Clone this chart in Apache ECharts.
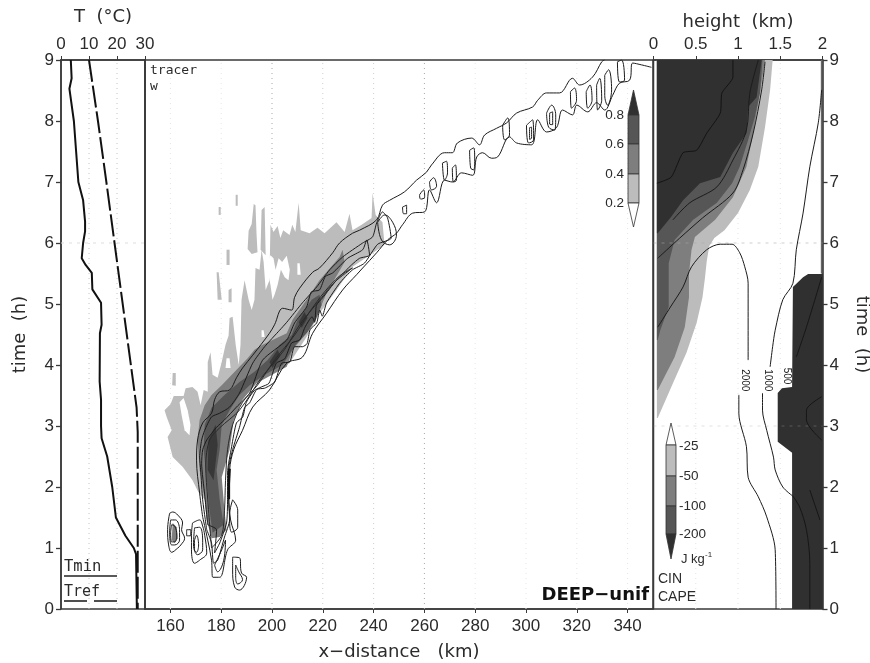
<!DOCTYPE html>
<html><head><meta charset="utf-8">
<style>html,body{margin:0;padding:0;background:#fff}#c{width:870px;height:663px;filter:blur(0.35px)}</style>
<script src="https://cdn.jsdelivr.net/npm/echarts@6/dist/echarts.min.js"></script>
</head><body><div id="c"></div>
<script>
// ---- tick labels
const hourTicks=[0,1,2,3,4,5,6,7,8,9];
const tempTicks=[0,10,20,30];
const distTicks=[160,180,200,220,240,260,280,300,320,340];
const heightTicks=[0,0.5,1,1.5,2];
// ---- left panel (T degC, time h)
const Tmin=[[3.5,9],[3.8,8.7],[3,8.53],[4.6,8],[5.4,7.5],[6.2,7],[7.9,6.7],[8.6,6.35],[8.6,6.19],[7.9,6],[7.4,5.75],[8.8,5.64],[11,5.51],[11.2,5.24],[14.3,5.02],[14.5,4.66],[13.9,4.52],[13.8,3.73],[14.3,3.43],[14.3,3],[14.5,2.8],[16.5,2.5],[18.3,2],[19.6,1.5],[23,1.2],[26,1],[26.8,0.9],[27.1,0]];
const Tref=[[10,9],[13.2,8],[16.2,7],[27,3.3],[27.4,2.9],[27.4,0]];
// ---- tracer w shading (km, h)
const wLight=[[171,1.92],[168.7,2.11],[164.8,2.33],[160.9,2.49],[159.7,2.69],[158.9,2.82],[160.5,2.93],[158.5,3.15],[157.7,3.26],[160.1,3.36],[161.3,3.49],[165.2,3.49],[166,3.62],[168.7,3.64],[170.7,3.56],[171.9,3.34],[173.1,3.59],[174.7,3.56],[174.7,4.05],[175.8,4.21],[176.6,3.84],[178.6,3.79],[180.2,4.05],[181.7,4.33],[182.9,4.48],[183.3,4.77],[184.5,4.79],[185.7,4.33],[186.9,4],[187.6,4.33],[188,5.07],[189.2,5.39],[190.8,5.07],[192,4.9],[193.1,5.07],[193.5,5.59],[195.1,5.56],[195.9,5.89],[196.7,5.69],[197.5,5.23],[199,5.39],[199.4,6.3],[200.6,6.18],[202.2,6.28],[203.3,6.08],[204.4,6.21],[206.9,6.13],[208,6.3],[209.2,6.18],[210.5,6.66],[211.3,6.21],[214.8,6.16],[217.9,6.25],[220.7,6.16],[225.4,6.34],[228.6,6.18],[230.5,6.48],[231.7,6.21],[235.3,6.3],[239.2,6.41],[239.6,6.82],[240.8,6.46],[243.5,6.34],[244.3,5.97],[238.4,5.8],[231.7,5.61],[225.4,5.23],[218.7,4.85],[213.6,4.46],[206.9,4.03],[193.9,3.7],[187.2,3.43],[184.1,3.02],[182.5,2.61],[173.5,1.79]];
const wSpikes=[
 [[190.4,5.9],[190.8,6.2],[192,6.31],[192.8,6.64],[193.5,6.62],[193.9,6.16],[194.3,5.85],[192,5.82]],
 [[195.5,5.89],[195.9,6.54],[197.1,6.59],[197.5,5.8]],
 [[160.7,3.67],[160.9,3.87],[162.1,3.87],[162.1,3.66]],
 [[182.1,5.89],[183.3,5.89],[183.3,5.64],[182.1,5.64]],
 [[178.2,5.52],[179,5.52],[180.2,5.07],[178.6,5.07]],
 [[182.9,5.23],[184.1,5.26],[184.1,5.03],[182.9,5.03]],
 [[185.7,6.79],[186.5,6.79],[186.5,6.61],[185.7,6.61]],
 [[179,6.59],[179.8,6.59],[179.8,6.46],[179,6.46]]];
const wHoles=[
 [[198.2,5.69],[199.4,5.8],[200.6,5.75],[201.4,5.56],[202.6,5.75],[204,5.69],[205.8,5.79],[207,5.56],[206.5,5.39],[205,5.44],[203.5,5.56],[202.2,5.31],[201,5.15],[200.2,5.07],[199.4,5.31],[198.6,5.48]],
 [[210,5.67],[210.9,5.67],[211.3,5.48],[210,5.48]],
 [[163.6,3.39],[165.2,3.46],[166.8,3.26],[167.9,3.02],[167.5,2.85],[165.6,2.93],[164.4,3.18]],
 [[195.9,4.57],[196.7,4.57],[197.1,4.46],[195.9,4.46]],
 [[182.1,4.11],[183.3,4.11],[183.7,3.95],[181.7,3.95]]];
const wMid=[[176.2,1.16],[174.3,1.46],[173.5,1.79],[171.5,2.28],[170.7,2.77],[171.5,3.1],[173.5,3.34],[176.2,3.51],[180.2,3.67],[185.3,3.89],[190.4,4.11],[193.1,4.25],[196.3,4.33],[205.8,4.52],[208.1,4.74],[213.6,5.07],[218.7,5.39],[226.6,5.77],[227.8,5.89],[228.6,5.69],[221.5,5.18],[217.6,4.79],[213.6,4.52],[208.1,4.25],[205.8,3.97],[193.9,3.7],[188.4,3.43],[184.9,3.1],[183.3,2.61],[180.2,2.16],[181.3,1.62],[182.1,1.3],[179.4,1.18]];
const wCell=[[160.9,1.41],[162.5,1.34],[162.9,1.16],[161.7,1.08],[160.5,1.13]];
const wDark=[[176.6,1.25],[175.4,1.62],[174.3,2.11],[173.1,2.61],[173.5,3.02],[176.2,3.3],[181.3,3.51],[187.2,3.72],[193.1,3.89],[198.3,4.08],[203,4.33],[207.7,4.49],[210.1,4.74],[212.8,4.9],[215.6,5.07],[218.7,5.15],[219.5,4.98],[217.2,4.74],[214,4.54],[209.3,4.33],[204.2,4],[197.1,3.84],[191.2,3.67],[187.2,3.51],[183.3,3.26],[180.2,3.02],[179.4,2.61],[178.2,2.28],[179.4,1.79],[181,1.38]];
const wDarkest=[
 [[174.7,2.28],[175,2.77],[177.8,3.02],[178.6,2.69],[177,2.11]],
 [[210.5,4.7],[212.8,4.87],[214,4.77],[211.7,4.61]],
 [[199,4.05],[202.2,4.25],[203.3,4.15],[200.2,3.95]]];
// ---- tracer contours (km, h)
const ctrUpper=[[172.7,1.51],[171.5,1.9],[170.3,2.44],[170.7,2.77],[172.7,3.05],[176.2,3.21],[177.4,3.43],[179.4,3.56],[183.3,3.59],[186,3.79],[188.4,3.95],[192.4,4.16],[199,4.52],[201,4.66],[204.2,4.93],[207.7,4.9],[208.9,5.11],[210.9,5.26],[216,5.52],[218.7,5.59],[223.9,5.84],[226.6,6],[231.7,6.16],[234.5,6.21],[241.2,6.38],[243.5,6.62],[246.3,6.7],[252.2,6.84],[256.9,7.03],[260.8,7.16],[262.8,7.28],[267.9,7.48],[271,7.48],[273,7.64],[278.6,7.72],[281.7,7.61],[283.7,7.77],[288.4,7.88],[292.4,7.97],[296.3,8.13],[302.6,8.23],[304.6,8.34],[308.1,8.46],[313.2,8.46],[318.3,8.7],[321.1,8.59],[326.2,8.72],[329.8,8.97],[330.9,9]];
const ctrLower=[[349.4,8.88],[345.5,8.92],[342,8.95],[340.8,8.67],[336.8,8.62],[334.1,8.42],[331,8.18],[327.8,8.3],[324.3,8.15],[320,8.26],[318.3,8.1],[314.4,8.18],[312,7.89],[308.1,7.82],[304.6,8.02],[302.2,7.61],[296.3,7.64],[293.5,7.74],[288.8,7.41],[286.4,7.39],[282.9,7.48],[280.6,7.41],[279,7.11],[274.6,7.15],[271,7],[267.9,7.03],[264.8,6.66],[262,6.87],[260.1,6.51],[255.4,6.49],[251.4,6.3],[249,6.16],[245.5,6.05],[241.2,5.84],[235.7,5.59],[233.3,5.48],[227.8,5.23],[221.5,4.85],[216,4.52],[212,4.13],[205.8,4.03],[199,3.59],[192.4,3.31],[188.4,2.93],[184.9,2.61],[183.3,2.28],[183,1.84],[183.7,1.46],[185.7,1.13],[182.5,0.97],[179.4,0.52],[176.7,0.52],[176.2,0.8],[174.7,1.13],[172.7,1.51]];
const ctrSecond=[[174.3,1.3],[172.7,1.79],[171.9,2.28],[171.5,2.49],[172.3,2.77],[173.5,2.93],[176.2,3.15],[179.4,3.21],[183.3,3.31],[187.2,3.54],[192.4,4.03],[197.1,4.3],[203,4.57],[205.8,4.7],[212,5.02],[217.6,5.28],[222.7,5.56],[227.8,5.77],[235.7,6],[239.6,6.1],[241.2,6.33],[243.5,6.51],[245.5,6.41],[246.9,6.08],[241.6,5.98],[236.4,5.67],[231.7,5.56],[226.6,5.34],[221.5,5.02],[219.8,4.8],[218.8,4.9],[217.6,4.69],[215,4.58],[213.8,4.35],[212,4.3],[208.9,4.3],[207,4.05],[203.8,4.03],[201,3.72],[197.1,3.62],[194,3.6],[191.2,3.38],[189.2,3.3],[187.2,2.98],[184.5,2.61],[182.9,2.28],[182.9,1.84],[183.3,1.46],[181.3,1.18],[178.6,0.8],[177,0.75],[176.2,1.08],[174.3,1.3]];
const ctrThird=[[174.7,1.38],[173.5,1.87],[172.3,2.39],[172.7,2.61],[174.3,2.77],[178.2,2.98],[181.3,3.1],[186,3.31],[191.2,3.54],[196.3,4.08],[205.8,4.41],[208.9,4.69],[213.6,4.95],[215.5,5.2],[218.7,5.23],[221,5.45],[223.9,5.51],[229.8,5.75],[235.7,5.89],[237.3,6.05],[238.4,5.8],[234.5,5.75],[231.3,5.64],[225.4,5.39],[219.9,5.1],[217.5,4.98],[216.8,4.7],[215.8,4.79],[213,4.62],[210.9,4.41],[207.7,4.36],[205,4.1],[201.7,4.03],[198.8,3.7],[195.8,3.64],[193,3.58],[189.9,3.39],[188.5,3.15],[186,3.05],[184.1,2.66],[182.5,2.23],[182.5,1.79],[182.1,1.41],[179.4,1.08],[177.4,0.92],[178.2,1.3],[174.7,1.38]];
const ctrFourth=[[176.2,1],[174.7,1.79],[173.9,2.36],[175.4,2.77],[179.4,2.97],[187.2,3.26],[195.8,3.79],[204.9,4.25],[210.9,4.66],[217.9,5.02],[224.7,5.36],[231.7,5.59],[226.6,5.46],[220.7,5.2],[214.8,4.87],[208.9,4.49],[201,4.08],[194.3,3.67],[188.4,3.39],[184.5,3.02],[182.5,2.61],[181.7,2.11],[181.3,1.62],[180.2,1.21],[176.2,1]];
const ctrDense=[[183.3,2.3],[183,2.05],[183,1.8]];
const ctrSmall=[
 [[277.8,7.52],[279.4,7.56],[279.8,7.36],[279.4,7.2],[278.2,7.23],[277.8,7.52]],
 [[267.1,7.31],[268.7,7.34],[269.1,7.15],[267.9,7.03],[267.1,7.31]],
 [[300.2,7.93],[302.6,8.02],[303,7.69],[301,7.64],[300.2,7.93]],
 [[301.4,7.89],[302.2,7.9],[302.2,7.72],[301.4,7.7],[301.4,7.89]],
 [[308.1,8.13],[310.1,8.26],[311.7,8.1],[311.3,7.85],[308.9,7.9],[308.1,8.13]],
 [[309.3,8.13],[310.5,8.15],[310.5,7.94],[309.3,7.95],[309.3,8.13]],
 [[317.5,8.48],[319.1,8.54],[319.9,8.34],[317.9,8.21],[317.5,8.48]],
 [[327.8,8.59],[329,8.7],[329.8,8.34],[328.2,8.18],[327.8,8.59]],
 [[331,8.75],[332.5,8.84],[333.7,8.51],[332.1,8.26],[331,8.42],[331,8.75]],
 [[323.7,8.48],[325.2,8.59],[326,8.34],[324.3,8.21],[323.7,8.48]],
 [[290.8,7.93],[292.8,8.05],[293.5,7.77],[291.6,7.69],[290.8,7.93]],
 [[336,8.97],[337.6,9],[338.8,8.67],[336.8,8.64],[336,8.97]],
 [[271,7.23],[272.2,7.28],[272.6,7.03],[271.4,7],[271,7.23]],
 [[262,7],[263.6,7.07],[264.8,6.93],[262.8,6.87],[262,7]],
 [[251.4,6.59],[253,6.62],[253,6.48],[251.8,6.48],[251.4,6.59]],
 [[258.1,6.79],[259.7,6.87],[260.1,6.75],[258.5,6.72],[258.1,6.79]],
 [[241.6,6.34],[244.4,6.46],[247.5,6.34],[249,6.13],[246.3,5.97],[243.1,6.05],[241.6,6.34]],
 [[159.7,1.57],[160.9,1.59],[162.9,1.54],[164.8,1.41],[164.4,1.3],[165.6,1.16],[164.1,1.05],[162.9,1],[160.5,0.93],[159.3,1.05],[158.9,1.3],[159.7,1.57]],
 [[160.1,1.46],[162,1.46],[163.6,1.3],[163.6,1.13],[161.7,1.05],[160.5,1.05],[159.7,1.26],[160.1,1.46]],
 [[160.5,1.38],[161.7,1.36],[162.5,1.21],[161.7,1.1],[160.5,1.1],[160.1,1.25],[160.5,1.38]],
 [[166.4,1.3],[168,1.3],[168,1.2],[166.4,1.2],[166.4,1.3]],
 [[168.7,1.41],[171.5,1.46],[172.7,1.36],[173.5,1.21],[174.3,0.92],[171.5,0.8],[169.5,0.75],[168.3,0.97],[168.3,1.21],[168.7,1.41]],
 [[169.5,1.33],[171.5,1.34],[172.7,1.13],[172.7,0.97],[170.7,0.89],[169.1,1.05],[169.5,1.33]],
 [[169.5,1.13],[170.3,1.21],[171.1,1.05],[170.3,0.93],[169.5,0.97],[169.5,1.13]],
 [[184.5,0.85],[187.2,0.84],[188,0.59],[190,0.52],[187.2,0.31],[185.3,0.36],[184.5,0.64],[184.5,0.85]],
 [[185.7,0.72],[186.9,0.61],[188.4,0.48],[186.5,0.41],[185.7,0.52],[185.7,0.72]],
 [[184.5,1.79],[186.5,1.62],[186.5,1.34],[184.1,1.26],[183.3,1.54],[184.5,1.79]],
 [[177.4,0.72],[180.2,0.97],[181.7,1.13],[181,0.8],[178.6,0.61],[177.4,0.72]]];
// ---- right panel (height km, time h)
const cinLight=[[0.04,9],[1.41,9],[1.38,8.51],[1.32,7.9],[1.24,7.25],[1.14,6.87],[1,6.49],[0.84,6.21],[0.72,6.08],[0.66,5.95],[0.63,5.7],[0.61,5.44],[0.58,5.11],[0.51,4.69],[0.39,4.2],[0.23,3.7],[0.05,3.13],[0.04,3.13]];
const cinMid=[[0.04,9],[1.32,9],[1.26,8.46],[1.18,7.8],[1.1,7.25],[0.94,6.75],[0.73,6.38],[0.49,6.1],[0.45,5.89],[0.42,5.5],[0.42,5.11],[0.37,4.62],[0.25,4.13],[0.05,3.59],[0.04,3.59]];
const cinDark=[[0.04,9],[1.29,9],[1.26,8.46],[1.2,8.07],[1.12,7.69],[1.02,7.25],[0.93,6.98],[0.75,6.66],[0.47,6.38],[0.25,6.05],[0.18,5.67],[0.18,5.18],[0.18,4.95],[0.08,4.57],[0.05,4.41],[0.04,4.41]];
const cinDarkest=[[0.04,9],[1.28,9],[1.22,8.39],[1.12,8.23],[1.1,7.8],[0.94,7.48],[0.79,7.08],[0.55,6.98],[0.35,6.7],[0.21,6.43],[0.05,6.16],[0.04,6.16]];
const capeLow=[[1.64,0],[1.64,2.56],[1.47,2.74],[1.47,3.54],[1.52,3.62],[1.64,3.64],[1.65,5.28],[1.77,5.44],[1.83,5.49],[2,5.49],[2,0]];
const capeEdge=[[1.98,9],[2,9],[2,5.5],[1.98,5.5]];
const cinLine1=[[0.94,9],[0.94,8.72],[0.81,8.46],[0.79,8.13],[0.63,7.8],[0.51,7.52],[0.35,7.48],[0.21,7.08],[0.04,6.98]];
const cinLine2=[[1.32,8.97],[1.28,8.51],[1.18,7.8],[1.06,7.2],[0.94,6.82],[0.58,6.41],[0.31,6.08],[0.05,5.75]];
const cinLine3=[[1.24,9],[1.14,8.46],[1.1,7.85],[0.94,7.36],[0.75,6.92],[0.43,6.66],[0.23,6.38]];
const cape2000a=[[0.05,4.62],[0.2,4.95],[0.35,5.28],[0.45,5.61],[0.63,5.89],[0.79,5.98],[0.93,5.98],[1.02,5.84],[1.08,5.61],[1.12,5.34],[1.12,4.08]];
const cape2000b=[[1.01,3.51],[1.01,3.21],[1.1,2.66],[1.12,2.16],[1.24,1.84],[1.34,1.51],[1.44,0.97],[1.45,0]];
const cape1000a=[[1.99,8.51],[1.95,7.97],[1.85,7.25],[1.77,6.49],[1.69,5.89],[1.65,5.34],[1.53,5.07],[1.44,4.57],[1.41,4.3],[1.38,3.97]];
const cape1000b=[[1.29,3.54],[1.29,3.26],[1.34,2.93],[1.42,2.49],[1.44,2.28],[1.53,2],[1.65,1.85]];
const capeInner1=[[1.65,1.85],[1.73,1.67],[1.81,1.3],[1.85,0.75],[1.85,0]];
const capeInner2=[[1.85,1.95],[1.97,1.46]];
const capeInner3=[[1.99,5.44],[1.81,4.62],[1.69,4.13]];
const capeInner4=[[1.99,3.48],[1.81,3.26],[1.81,3.1],[1.99,2.77]];
const contourLabels=[['2000',1.08,3.75],['1000',1.35,3.75],['500',1.58,3.82]];
// ---- colorbar labels
const wBarLabels=['0.2','0.4','0.6','0.8'];
const cinBarLabels=['-25','-50','-100','-200'];

const GREY={l:'#bcbcbc',m:'#7e7e7e',d:'#565656',k:'#303030'};
const INK='#2b2b2b', AX='#3a3a3a';
const FONT='"Liberation Sans",sans-serif';
const tickFont={fontFamily:FONT,fontSize:17,color:INK};
const nameFont={fontFamily:'"DejaVu Sans",sans-serif',fontSize:18,color:INK};

function polys(list,fill,gi,z){
  return {type:'custom',xAxisIndex:gi,yAxisIndex:gi,silent:true,z:z,animation:false,clip:true,
    data:list.map((p,i)=>[i]),
    renderItem:(params,api)=>({type:'polygon',shape:{points:list[params.dataIndex].map(p=>api.coord(p))},style:{fill:fill}})};
}
function line(d,gi,z,o){
  o=o||{};
  return {type:'line',xAxisIndex:gi,yAxisIndex:gi,data:d,showSymbol:false,symbol:'none',silent:true,animation:false,z:z,smooth:o.smooth||false,
    lineStyle:{color:o.color||'#1c1c1c',width:o.width||1,type:o.type||'solid'}};
}
function vgrid(x,gi,color){return line([[x,0],[x,9]],gi,1,{color:color,width:1,type:[1,4]});}
function hgrid(h,x0,x1,gi,color){return line([[x0,h],[x1,h]],gi,8,{color:color,width:1,type:[3,5]});}

const series=[
  line(Tmin,0,5,{width:2,color:'#111'}),
  line(Tref,0,5,{width:2,color:'#111',type:[22,4]}),
  vgrid(10,0,'#c4c4c4'),vgrid(20,0,'#c4c4c4'),hgrid(6,0,30,0,'#dddddd'),
  polys([wLight],GREY.l,1,2),polys(wSpikes,GREY.l,1,2),polys(wHoles,'#ffffff',1,3),
  polys([wMid,wCell],GREY.m,1,4),polys([wDark],GREY.d,1,5),polys(wDarkest,'#383838',1,6),
  ...[160,180,280,300,320,340].map(x=>vgrid(x,1,'#e6e6e6')),
  ...[220,240].map(x=>vgrid(x,1,'#cfcfcf')),
  ...[200,260].map(x=>vgrid(x,1,'#a8a8a8')),
  line(ctrUpper,1,9,{smooth:0.35}),line(ctrLower,1,9,{smooth:0.35}),line(ctrSecond,1,9,{smooth:0.2}),line(ctrThird,1,9,{smooth:0.2}),line(ctrFourth,1,9,{color:'#2a2a2a',smooth:0.3}),
  line(ctrDense,1,9,{width:2.6,color:'#111'}),
  ...ctrSmall.map(c=>line(c,1,9,{smooth:0.4})),
  polys([cinLight],GREY.l,2,2),polys([cinMid],GREY.m,2,3),polys([cinDark],GREY.d,2,4),polys([cinDarkest],GREY.k,2,5),
  polys([capeLow],GREY.k,2,5),polys([capeEdge],'#666',2,5),
  ...[0.5,1,1.5].map(x=>vgrid(x,2,'#e4e4e4')),
  hgrid(6,0,2,2,'rgba(170,170,170,0.55)'),hgrid(3,0,2,2,'rgba(170,170,170,0.35)'),
  line(cinLine1,2,9,{color:'#141414',smooth:0.2}),line(cinLine2,2,9,{smooth:0.3}),line(cinLine3,2,9,{smooth:0.3}),
  line(cape2000a,2,9,{smooth:0.3}),line(cape2000b,2,9,{smooth:0.3}),
  line(cape1000a,2,9,{smooth:0.3}),line(cape1000b,2,9,{smooth:0.3}),
  line(capeInner1,2,9,{color:'#161616',smooth:0.3}),line(capeInner2,2,9,{color:'#161616'}),
  line(capeInner3,2,9,{color:'#161616',smooth:0.3}),line(capeInner4,2,9,{color:'#161616',smooth:0.3}),
  {type:'custom',xAxisIndex:2,yAxisIndex:2,silent:true,z:10,animation:false,data:contourLabels.map((c,i)=>[i]),
   renderItem:(params,api)=>{const c=contourLabels[params.dataIndex];const p=api.coord([c[1],c[2]]);
     return {type:'text',x:p[0],y:p[1],rotation:-Math.PI/2,style:{text:c[0],font:'10px '+FONT,fill:'#222',textAlign:'center',textVerticalAlign:'middle'}};}}
];

function yAx(gi,pos,show,name){
  return {type:'value',gridIndex:gi,position:pos,min:0,max:9,interval:1,
    axisLine:{show:true,onZero:false,lineStyle:{color:AX,width:1.5}},
    axisTick:{show:show,length:5,lineStyle:{color:AX,width:1.3}},
    axisLabel:{show:show,margin:7,...tickFont},splitLine:{show:false},
    name:name||'',nameLocation:'middle',nameGap:pos==='left'?32:30,nameRotate:pos==='left'?90:-90,nameTextStyle:nameFont};
}
const grids=[
  {left:61,top:60,width:84,height:549},
  {left:145,top:60,width:508,height:549},
  {left:653.5,top:60,width:169,height:549}
].map(g=>({...g,show:true,borderColor:AX,borderWidth:1.5,backgroundColor:'transparent',containLabel:false,outerBoundsMode:'none'}));

const txt=(x,y,t,size,extra)=>({type:'text',x:x,y:y,z:20,silent:true,style:Object.assign({text:t,font:size+'px "DejaVu Sans Mono",monospace',fill:INK,textAlign:'left',textVerticalAlign:'middle'},extra||{})});
const rect=(x,y,w,h,f)=>({type:'rect',z:20,silent:true,shape:{x:x,y:y,width:w,height:h},style:{fill:f,stroke:'#333',lineWidth:0.8}});
const tri=(pts,f)=>({type:'polygon',z:20,silent:true,shape:{points:pts},style:{fill:f,stroke:'#333',lineWidth:0.8}});
const seg=(x1,x2,y)=>({type:'line',z:20,silent:true,shape:{x1:x1,y1:y,x2:x2,y2:y},style:{stroke:'#222',lineWidth:1.6}});
const lab=(x,y,t,a)=>txt(x,y,t,13,{font:'13.5px '+FONT,textAlign:a});

const graphic=[
  txt(150,71,'tracer',13),txt(150,87,'w',13),
  txt(64,567,'Tmin',15.5),seg(64,117,576),
  txt(64,592,'Tref',15),seg(64,87,601),seg(94,117,601),
  {type:'text',x:649,y:595,z:20,silent:true,style:{text:'DEEP\u2212unif',font:'bold 18px "DejaVu Sans",sans-serif',fill:'#111',textAlign:'right',textVerticalAlign:'middle'}},
  // w colorbar
  tri([[633.5,90],[639,115],[628,115]],GREY.k),rect(628,115,11,29,GREY.d),rect(628,144,11,30,GREY.m),rect(628,174,11,29,GREY.l),
  tri([[628,203],[639,203],[633.5,227]],'#ffffff'),
  lab(624,203,wBarLabels[0],'right'),lab(624,174,wBarLabels[1],'right'),lab(624,144,wBarLabels[2],'right'),lab(624,115,wBarLabels[3],'right'),
  // CIN colorbar
  tri([[671,423],[676,445],[666,445]],'#ffffff'),rect(666,445,10,31,GREY.l),rect(666,476,10,30,GREY.m),rect(666,506,10,28,GREY.d),
  tri([[666,534],[676,534],[671,559]],GREY.k),
  lab(679,446,cinBarLabels[0],'left'),lab(679,476,cinBarLabels[1],'left'),lab(679,506,cinBarLabels[2],'left'),lab(679,534,cinBarLabels[3],'left'),
  {type:'text',x:681,y:559,z:20,silent:true,style:{text:'J kg',font:'13px '+FONT,fill:INK,textVerticalAlign:'middle'}},
  {type:'text',x:705,y:555,z:20,silent:true,style:{text:'-1',font:'8px '+FONT,fill:INK,textVerticalAlign:'middle'}},
  txt(658,579,'CIN',13,{font:'14px '+FONT}),txt(658,597,'CAPE',13,{font:'14px '+FONT})
];

const chart=echarts.init(document.getElementById('c'),null,{renderer:'canvas',width:870,height:663});
chart.setOption({
  backgroundColor:'#ffffff',animation:false,tooltip:{show:false},
  grid:grids,
  xAxis:[
    {type:'value',gridIndex:0,position:'top',min:0,max:30,interval:10,
     axisLine:{show:true,onZero:false,lineStyle:{color:AX,width:1.5}},axisTick:{length:4,lineStyle:{color:AX}},
     axisLabel:{margin:7,...tickFont,formatter:v=>tempTicks.includes(v)?String(v):''},splitLine:{show:false},
     name:'T  (\u00b0C)',nameLocation:'middle',nameGap:34,nameTextStyle:nameFont},
    {type:'value',gridIndex:1,position:'bottom',min:150,max:350,
     axisLine:{show:true,onZero:false,lineStyle:{color:AX,width:1.5}},
     axisTick:{show:true,length:4,customValues:distTicks,lineStyle:{color:AX}},
     axisLabel:{show:true,margin:9,customValues:distTicks,...tickFont},splitLine:{show:false},
     name:'x\u2212distance   (km)',nameLocation:'middle',nameGap:34,nameTextStyle:nameFont},
    {type:'value',gridIndex:2,position:'top',min:0,max:2,interval:0.5,
     axisLine:{show:true,onZero:false,lineStyle:{color:AX,width:1.5}},axisTick:{length:4,lineStyle:{color:AX}},
     axisLabel:{margin:7,...tickFont,formatter:v=>heightTicks.includes(v)?String(v):'',hideOverlap:false},splitLine:{show:false},
     name:'height  (km)',nameLocation:'middle',nameGap:29,nameTextStyle:nameFont}
  ],
  yAxis:[yAx(0,'left',true,'time  (h)'),yAx(1,'left',false),yAx(2,'right',true,'time  (h)')],
  series:series,graphic:graphic
});
</script></body></html>
